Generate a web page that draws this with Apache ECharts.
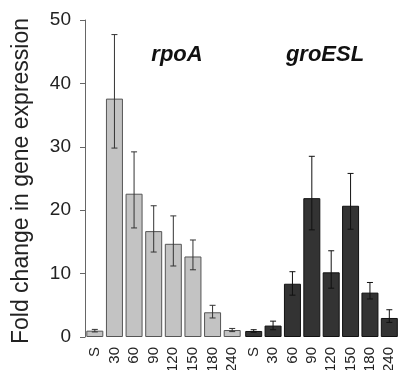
<!DOCTYPE html>
<html><head><meta charset="utf-8">
<script src="https://cdn.jsdelivr.net/npm/echarts@6/dist/echarts.min.js"></script>
<style>html,body{margin:0;padding:0;background:#fff}#c{width:399px;height:370px}</style>
</head><body><div id="c"></div>
<script>
var categories = ['S','30','60','90','120','150','180','240'];
var rpoA = [1.0, 37.6, 22.6, 16.7, 14.7, 12.7, 3.9, 1.1];
var rpoALow = [0.8, 29.8, 17.2, 13.4, 11.2, 10.6, 3.0, 0.85];
var rpoAHigh = [1.2, 47.7, 29.2, 20.7, 19.1, 15.3, 5.0, 1.35];
var groESL = [0.95, 1.8, 8.4, 21.9, 10.2, 20.7, 7.0, 3.0];
var groESLLow = [0.75, 1.15, 6.6, 16.9, 7.7, 17.0, 6.0, 2.3];
var groESLHigh = [1.15, 2.5, 10.3, 28.5, 13.6, 25.8, 8.6, 4.3];
var yTicks = {min: 0, max: 50, interval: 10};

var FONT = '"Liberation Sans", Arial, sans-serif';
function errSeries(idx, low, high, color) {
  return {
    type: 'custom', xAxisIndex: idx, yAxisIndex: idx, z: 5,
    data: categories.map(function (c, i) { return [i, low[i], high[i]]; }),
    renderItem: function (params, api) {
      var lo = api.coord([api.value(0), api.value(1)]);
      var hi = api.coord([api.value(0), api.value(2)]);
      var w = 3;
      var st = {stroke: color, lineWidth: 1};
      return {type: 'group', children: [
        {type: 'line', shape: {x1: hi[0], y1: hi[1], x2: lo[0], y2: lo[1]}, style: st},
        {type: 'line', shape: {x1: hi[0]-w, y1: hi[1], x2: hi[0]+w, y2: hi[1]}, style: st},
        {type: 'line', shape: {x1: lo[0]-w, y1: lo[1], x2: lo[0]+w, y2: lo[1]}, style: st}
      ]};
    }
  };
}
function xAx(idx) {
  return {
    type: 'category', gridIndex: idx, data: categories,
    axisLine: {show: false}, axisTick: {show: false},
    axisLabel: {rotate: 90, interval: 0, hideOverlap: false, fontSize: 15, color: '#222', fontFamily: FONT, margin: 10}
  };
}
function yAx(idx, show) {
  return {
    type: 'value', gridIndex: idx, min: yTicks.min, max: yTicks.max, interval: yTicks.interval,
    splitLine: {show: false},
    axisLine: {show: show, lineStyle: {color: '#666', width: 1}},
    axisTick: {show: show, length: 5, lineStyle: {color: '#666'}},
    axisLabel: {show: show, fontSize: 19, color: '#222', fontFamily: FONT, margin: 14}
  };
}
var chart = echarts.init(document.getElementById('c'), null, {renderer: 'canvas'});
chart.setOption({
  animation: false,
  backgroundColor: '#fff',
  grid: [
    {left: 85, top: 20, width: 157, bottom: 33, containLabel: false, outerBoundsMode: 'none'},
    {left: 244, top: 20, width: 155, bottom: 33, containLabel: false, outerBoundsMode: 'none'}
  ],
  xAxis: [xAx(0), xAx(1)],
  yAxis: [yAx(0, true), yAx(1, false)],
  graphic: [
    {type: 'text', x: 22, y: 181, rotation: Math.PI / 2,
     style: {text: 'Fold change in gene expression', font: '23px ' + FONT, fill: '#222', textAlign: 'center', textVerticalAlign: 'middle'}},
    {type: 'text', x: 177, y: 55,
     style: {text: 'rpoA', font: 'italic bold 22px ' + FONT, fill: '#111', textAlign: 'center', textVerticalAlign: 'middle'}},
    {type: 'text', x: 325, y: 55,
     style: {text: 'groESL', font: 'italic bold 22px ' + FONT, fill: '#111', textAlign: 'center', textVerticalAlign: 'middle'}}
  ],
  series: [
    {type: 'bar', xAxisIndex: 0, yAxisIndex: 0, data: rpoA, barWidth: 17,
     itemStyle: {color: '#c3c3c3', borderColor: '#555', borderWidth: 1}},
    {type: 'bar', xAxisIndex: 1, yAxisIndex: 1, data: groESL, barWidth: 17,
     itemStyle: {color: '#333333', borderColor: '#111', borderWidth: 1}},
    errSeries(0, rpoALow, rpoAHigh, '#333'),
    errSeries(1, groESLLow, groESLHigh, '#111')
  ]
});
</script></body></html>
